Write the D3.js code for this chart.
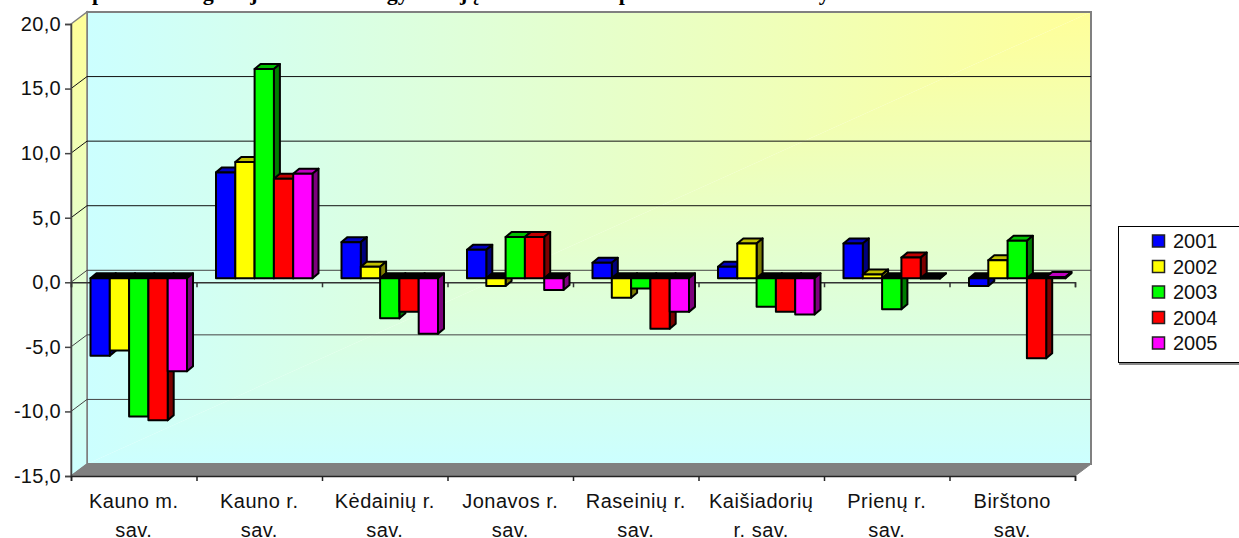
<!DOCTYPE html>
<html>
<head>
<meta charset="utf-8">
<script src="https://cdn.jsdelivr.net/npm/d3@7"></script>
<style>
  html, body { margin: 0; padding: 0; background: #fff; overflow: hidden; }
  text { font-family: "Liberation Sans", sans-serif; fill: #111; }
</style>
</head>
<body>
<div id="chart"></div>
<script>
const titleText = "Kauno apskrities migracijos saldo 1000 gyventojų 2001–2005 m. pasikeitimas savivaldybėse";
const categories = [
    ["Kauno m.", "sav."], ["Kauno r.", "sav."], ["Kėdainių r.", "sav."], ["Jonavos r.", "sav."],
    ["Raseinių r.", "sav."], ["Kaišiadorių", "r. sav."], ["Prienų r.", "sav."], ["Birštono", "sav."]
];
const years = ["2001", "2002", "2003", "2004", "2005"];
const values2001 = [-6.0, 8.2, 2.8, 2.2, 1.2, 0.9, 2.7, -0.6];
const values2002 = [-5.6, 9.0, 0.9, -0.6, -1.5, 2.7, 0.3, 1.4];
const values2003 = [-10.7, 16.2, -3.1, 3.2, -0.8, -2.2, -2.4, 2.9];
const values2004 = [-11.0, 7.7, -2.6, 3.2, -3.9, -2.6, 1.6, -6.2];
const values2005 = [-7.2, 8.1, -4.3, -0.9, -2.6, -2.8, -0.02, 0.1];
const seriesValues = [values2001, values2002, values2003, values2004, values2005];
const colors = ["#0000ff", "#ffff00", "#00ff00", "#ff0000", "#ff00ff"];
const yTicks = [-15, -10, -5, 0, 5, 10, 15, 20];

const W = 1239, H = 538;
const svg = d3.select("#chart").append("svg")
    .attr("width", W)
    .attr("height", H)
    .style("display", "block");

// plot box: front face, the back wall sits up and to the right of it
const left = 71, right = 1075, top_ = 24, bottom = 476;
const wallDx = 16, wallDy = -12;
const wallL = left + wallDx, wallR = right + wallDx, wallT = top_ + wallDy, wallB = bottom + wallDy;

const y = d3.scaleLinear().domain([-15, 20]).range([bottom, top_]);
const xTick = d3.scaleLinear().domain([0, categories.length]).range([left, right]);
const xCat = d3.scaleBand().domain(d3.range(categories.length)).range([left, right]).paddingInner(0).paddingOuter(0);
const xBar = d3.scaleBand().domain(d3.range(years.length)).range([14.5, xCat.bandwidth() - 14.5]);

// gradients: the wall fades out from its top right corner in L shaped bands
const defs = svg.append("defs");
function addGrad(id, x1, y1, x2, y2) {
    const g = defs.append("linearGradient")
        .attr("id", id)
        .attr("gradientUnits", "userSpaceOnUse")
        .attr("x1", x1).attr("y1", y1).attr("x2", x2).attr("y2", y2);
    g.append("stop").attr("offset", "0%").attr("stop-color", "#ffff99");
    g.append("stop").attr("offset", "100%").attr("stop-color", "#ccffff");
}
addGrad("wallH", wallR, 0, wallL, 0);
addGrad("wallV", 0, wallT, 0, wallB);
addGrad("side", 0, top_, 0, bottom);

// title, runs off the top of the picture in the original
svg.append("text")
    .attr("x", 12)
    .attr("y", 0)
    .style("font-family", "'Liberation Serif', serif")
    .style("font-weight", "bold")
    .style("font-size", "22px")
    .style("fill", "#000")
    .text(titleText);

// walls and floor
const poly = pts => pts.map(p => p.join(",")).join(" ");
svg.append("polygon")
    .attr("points", poly([[wallL, wallT], [wallR, wallT], [wallL, wallB]]))
    .attr("fill", "url(#wallH)");
svg.append("polygon")
    .attr("points", poly([[wallR, wallT], [wallR, wallB], [wallL, wallB]]))
    .attr("fill", "url(#wallV)");
svg.append("rect")
    .attr("x", wallL)
    .attr("y", wallT)
    .attr("width", wallR - wallL)
    .attr("height", wallB - wallT)
    .attr("fill", "none")
    .attr("stroke", "#808080")
    .attr("stroke-width", 2);
svg.append("polygon")
    .attr("points", poly([[left, top_], [wallL, wallT], [wallL, wallB], [left, bottom]]))
    .attr("fill", "url(#side)")
    .attr("stroke", "#808080")
    .attr("stroke-width", 1.5);
svg.append("polygon")
    .attr("points", poly([[left, bottom], [wallL, wallB], [wallR, wallB], [right, bottom]]))
    .attr("fill", "#808080")
    .attr("stroke", "#808080");

// gridlines on the back wall and the diagonal on the side wall
svg.append("g").selectAll("path")
    .data(yTicks.filter(d => d > -15 && d < 20))
    .enter()
    .append("path")
    .attr("d", d => `M${left},${y(d)}L${wallL},${y(d) + wallDy}H${wallR}`)
    .attr("fill", "none")
    .attr("stroke", d => d > 0 ? "#111" : "#444")
    .attr("stroke-width", 1);

// axes
const yAxis = svg.append("g")
    .attr("transform", `translate(${left},0)`)
    .call(d3.axisLeft(y).tickValues(yTicks).tickSize(6).tickPadding(4)
        .tickFormat(d => d3.format(".1f")(d).replace(".", ",").replace("−", "-")));
yAxis.selectAll("text").style("font-size", "20px").style("letter-spacing", "0.3px");
yAxis.selectAll("path, line").attr("stroke", "#444").attr("stroke-width", 1.5);

const zeroAxis = svg.append("g")
    .attr("transform", `translate(0,${y(0)})`)
    .call(d3.axisBottom(xTick).ticks(categories.length).tickSize(5).tickFormat(""));
zeroAxis.selectAll("path, line").attr("stroke", "#333").attr("stroke-width", 1.5);

const floorAxis = svg.append("g")
    .attr("transform", `translate(0,${bottom})`)
    .call(d3.axisBottom(xTick).ticks(categories.length).tickSize(5).tickFormat(""));
floorAxis.selectAll("path, line").attr("stroke", "#222").attr("stroke-width", 1.5);

// category labels
const labels = svg.append("g").selectAll("text")
    .data(categories)
    .enter()
    .append("text")
    .attr("text-anchor", "middle")
    .attr("y", 508)
    .style("font-size", "20px")
    .style("letter-spacing", "0.5px");
labels.selectAll("tspan")
    .data((d, i) => d.map(line => ({ line, i })))
    .enter()
    .append("tspan")
    .attr("x", d => xCat(d.i) + xCat.bandwidth() / 2)
    .attr("dy", (d, j) => j ? 29 : 0)
    .text(d => d.line);

// bars, one 3d box per value, painted left to right
const barDx = 6, barDy = -5;
const shiftX = 5;
const zeroY = y(0) - 4;
const unit = y(0) - y(1);
const valY = v => zeroY - v * unit;

const barData = [];
categories.forEach((c, i) => {
    years.forEach((yr, s) => {
        barData.push({ i, s, v: seriesValues[s][i] });
    });
});

const bars = svg.append("g").selectAll("g")
    .data(barData)
    .enter()
    .append("g")
    .attr("stroke", "#000")
    .attr("stroke-width", 2)
    .attr("stroke-linejoin", "round");

const x0 = d => xCat(d.i) + xBar(d.s) + shiftX;
const x1 = d => x0(d) + xBar.bandwidth();

// top
bars.append("polygon")
    .attr("points", d => {
        const t = Math.min(valY(d.v), zeroY);
        return poly([[x0(d), t], [x0(d) + barDx, t + barDy], [x1(d) + barDx, t + barDy], [x1(d), t]]);
    })
    .attr("fill", d => d.v < 0 ? "#000" : d3.rgb(colors[d.s]).darker(0.8));
// side
bars.append("polygon")
    .attr("points", d => {
        const t = Math.min(valY(d.v), zeroY), b = Math.max(valY(d.v), zeroY);
        return poly([[x1(d), t], [x1(d) + barDx, t + barDy], [x1(d) + barDx, b + barDy], [x1(d), b]]);
    })
    .attr("fill", d => d3.rgb(colors[d.s]).darker(2));
// front
bars.append("rect")
    .attr("x", x0)
    .attr("y", d => Math.min(valY(d.v), zeroY))
    .attr("width", xBar.bandwidth())
    .attr("height", d => Math.abs(valY(d.v) - zeroY))
    .attr("fill", d => colors[d.s]);

// legend, its right edge is outside the picture
const legend = svg.append("g");
legend.append("rect")
    .attr("x", 1118.5).attr("y", 226.5)
    .attr("width", 130).attr("height", 136)
    .attr("fill", "#fff")
    .attr("stroke", "#000");
legend.append("path")
    .attr("d", "M1119,364H1239")
    .attr("stroke", "#888")
    .attr("stroke-width", 2);
const legendY = d3.scalePoint().domain(years).range([241, 343]);
const rows = legend.selectAll(".row")
    .data(years)
    .enter()
    .append("g")
    .attr("class", "row")
    .attr("transform", d => `translate(1152,${legendY(d)})`);
rows.append("rect")
    .attr("x", 0.5).attr("y", -6)
    .attr("width", 12).attr("height", 12)
    .attr("fill", (d, i) => colors[i])
    .attr("stroke", "#222")
    .attr("stroke-width", 1.5);
rows.append("text")
    .attr("x", 21)
    .attr("y", 7)
    .style("font-size", "20px")
    .text(d => d);
</script>
</body>
</html>
